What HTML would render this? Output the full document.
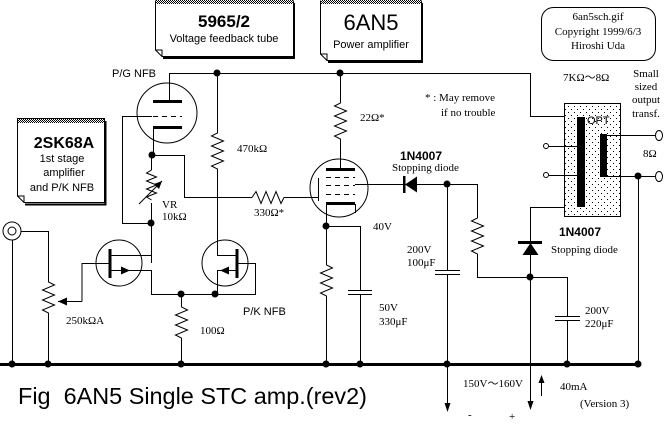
<!DOCTYPE html>
<html><head><style>
html,body{margin:0;padding:0;background:#fff;}
svg{display:block;}
.s{font-family:"Liberation Sans",sans-serif;}
.r{font-family:"Liberation Serif",serif;}
</style></head><body>
<svg width="665" height="424" viewBox="0 0 665 424" xmlns="http://www.w3.org/2000/svg">
<defs>
<pattern id="h" width="2" height="2" patternUnits="userSpaceOnUse"><rect width="1" height="1" fill="#000"/><rect x="1" y="1" width="1" height="1" fill="#000"/></pattern>
<pattern id="d" width="6" height="6" patternUnits="userSpaceOnUse"><rect width="6" height="6" fill="#fff"/><rect x="1" y="1" width="1" height="1" fill="#000"/><rect x="4" y="4" width="1" height="1" fill="#000"/></pattern>
</defs>
<g fill="none" stroke="#000" stroke-width="1">
<path d="M155.5,0.5 V50 L162,56.5 H293.5 V0.5" fill="#fff"/>
<rect x="156" y="0" width="137" height="4" fill="url(#h)" stroke="none"/>
<path d="M294,3 V58 H163" stroke-width="2"/>
<path d="M155.5,50 H162 V56.5"/>
<path d="M320.5,0.5 V54 L327,60.5 H421.5 V0.5" fill="#fff"/>
<rect x="321" y="0" width="100" height="4" fill="url(#h)" stroke="none"/>
<path d="M422,3 V62 H328" stroke-width="2"/>
<path d="M320.5,54 H327 V60.5"/>
<path d="M17.5,118.5 V196 L24,202.5 H104.5 V118.5 Z" fill="#fff"/>
<rect x="18" y="119" width="86" height="4" fill="url(#h)" stroke="none"/>
<path d="M105.5,121 V204.5 H25" stroke-width="2"/>
<path d="M17.5,196 H24 V202.5"/>
<rect x="541.5" y="7.5" width="114" height="53" rx="12"/>
<path d="M169,73.5 H530.5 V116.5 H578"/>
<circle cx="167" cy="113" r="30"/>
<path d="M169.5,73 V101"/>
<path d="M153,101.5 H182" stroke-width="3"/>
<path d="M153,127.5 H182" stroke-width="3"/>
<path d="M153,116.5 H182" stroke-dasharray="5,4"/>
<path d="M152,116.5 H122.5 V223.5 H151.5"/>
<path d="M153.5,128 V155.5 H184.5 V197.5 H252"/>
<path d="M151.5,155 V170 M151.5,203 V263"/>
<path d="M151.5,170 l-5,3 l10,4 l-10,4 l10,4 l-10,4 l10,4 l-10,4 l5,3" />
<path d="M139,204 L162,181"/>
<path d="M217.5,73 V133 l-6,3 l12,5 l-12,5 l12,5 l-12,5 l12,5 l-12,5 l6,3 V255.5 H237"/>
<path d="M252,197.5 l4,-6 l5,12 l5,-12 l5,12 l5,-12 l5,12 l3,-6 H318"/>
<circle cx="119" cy="263" r="23"/>
<path d="M110,249 V278" stroke-width="3"/>
<path d="M82,301.5 V263.5 H110"/>
<path d="M110,255.5 H151"/>
<path d="M110,270.5 H151.5 V294.5 H255.5 V263.5 H237"/>
<circle cx="225" cy="263" r="23"/>
<path d="M237,249 V278" stroke-width="3"/>
<path d="M237,270.5 H217.5 V294"/>
<circle cx="12" cy="231" r="9"/>
<circle cx="12" cy="231" r="4"/>
<path d="M12.5,240 V364 M21,231.5 H48.5 V282 l6,3 l-12,5 l12,5 l-12,5 l12,5 l-12,5 l6,3 V364"/>
<path d="M58,301.5 H82"/>
<path d="M181.5,294 V307 l6,3 l-12,5 l12,5 l-12,5 l12,5 l-12,5 l6,3 V364"/>
<circle cx="339" cy="188" r="29"/>
<path d="M340.5,73 V103 l-6,3 l12,5 l-12,5 l12,5 l-12,5 l12,5 l-12,5 l6,3 V169"/>
<path d="M326,169.5 H355" stroke-width="3"/>
<path d="M326,177.5 H355 M326,185.5 H355 M326,194.5 H355" stroke-dasharray="5,4"/>
<path d="M326,203.5 H355" stroke-width="3"/>
<path d="M355.5,204 V213"/>
<path d="M318.5,178 V201"/>
<path d="M355,184.5 H404"/>
<path d="M326.5,204 V226.5 H360.5 V290 M360.5,294 V364"/>
<path d="M348,290.5 H372 M348,294.5 H372"/>
<path d="M326.5,226 V265 l6,3 l-12,5 l12,5 l-12,5 l12,5 l-12,5 l6,3 V364"/>
<path d="M417,184.5 H477.5 V218 l-6,3 l12,5 l-12,5 l12,5 l-12,5 l12,5 l-12,5 l6,3 V277.5 H567.5 V316 M567.5,320 V364"/>
<path d="M555,316.5 H580 M555,320.5 H580"/>
<path d="M447.5,184 V270 M447.5,274 V408"/>
<path d="M435,270.5 H460 M435,274.5 H460"/>
<path d="M530.5,207.5 H578 M530.5,207 V408"/>
<path d="M518,242.5 H542" stroke-width="3"/>
<rect x="564.5" y="103.5" width="56" height="113" fill="url(#d)"/>
<rect x="577" y="117" width="8" height="90" fill="#000" stroke="none"/>
<rect x="600" y="134" width="7" height="43" fill="#000" stroke="none"/>
<circle cx="546" cy="146" r="2.5"/>
<circle cx="546" cy="175" r="2.5"/>
<path d="M549,146.5 H577 M549,175.5 H577"/>
<path d="M607,135.5 H655 M607,176.5 H655 M638.5,176 V364"/>
<ellipse cx="659" cy="135.5" rx="3.5" ry="5"/>
<ellipse cx="659" cy="176.5" rx="3.5" ry="5"/>
<path d="M0,364.5 H639" stroke-width="3"/>
<path d="M541.5,380 V396"/>
</g>
<g fill="#000">
<circle cx="217" cy="73" r="3.5"/><circle cx="340" cy="73" r="3.5"/>
<circle cx="152" cy="155" r="3.5"/><circle cx="151" cy="223" r="3.5"/>
<circle cx="181" cy="294" r="3.5"/><circle cx="215" cy="294" r="3.5"/>
<circle cx="326" cy="226" r="3.5"/><circle cx="447" cy="184" r="3.5"/>
<circle cx="530" cy="277" r="3.5"/><circle cx="638" cy="176" r="3.5"/>
<circle cx="12" cy="364" r="3.5"/><circle cx="48" cy="364" r="3.5"/>
<circle cx="181" cy="364" r="3.5"/><circle cx="326" cy="364" r="3.5"/>
<circle cx="360" cy="364" r="3.5"/><circle cx="447" cy="364" r="3.5"/>
<circle cx="567" cy="364" r="3.5"/><circle cx="638" cy="364" r="3.5"/>
<path d="M162,181 l-8,3 l5,5 z"/>
<path d="M130,270.5 l-9,-4 v8 z"/>
<path d="M220,270.5 l9,-4 v8 z"/>
<path d="M58,301.5 l9,-4 v8 z"/>
<path d="M405,184.5 l12,-8 v16 z"/><rect x="403" y="176" width="2.5" height="17"/>
<path d="M530.5,243 l-8,12 h16 z"/>
<path d="M447.5,412 l-3,-9 h6 z"/><path d="M530.5,410 l-3,-9 h6 z"/>
<path d="M541.5,375 l-3,8 h6 z"/>
</g>
<g class="s" fill="#000">
<text x="224" y="27" font-size="17" font-weight="bold" text-anchor="middle">5965/2</text>
<text x="224" y="42" font-size="11" text-anchor="middle">Voltage feedback tube</text>
<text x="371" y="30" font-size="22" text-anchor="middle">6AN5</text>
<text x="371" y="48" font-size="11" text-anchor="middle">Power amplifier</text>
<text x="64" y="148" font-size="16" font-weight="bold" text-anchor="middle">2SK68A</text>
<text x="62" y="162" font-size="11" text-anchor="middle">1st stage</text>
<text x="64" y="176" font-size="11" text-anchor="middle">amplifier</text>
<text x="62" y="191" font-size="11" text-anchor="middle">and P/K NFB</text>
<text x="112" y="77" font-size="11">P/G NFB</text>
<text x="243" y="315" font-size="11">P/K NFB</text>
<text x="18" y="404" font-size="23" textLength="349" lengthAdjust="spacingAndGlyphs">Fig&#160;&#160;6AN5 Single STC amp.(rev2)</text>
<text x="421" y="160" font-size="12" font-weight="bold" text-anchor="middle">1N4007</text>
<text x="580" y="236" font-size="12" font-weight="bold" text-anchor="middle">1N4007</text>
<text x="587" y="124" font-size="11">OPT</text>
</g>
<g class="r" fill="#000" font-size="11">
<text x="237" y="152">470kΩ</text>
<text x="162" y="208">VR</text>
<text x="162" y="220">10kΩ</text>
<text x="254" y="216">330Ω*</text>
<text x="66" y="324">250kΩA</text>
<text x="200" y="334">100Ω</text>
<text x="360" y="121">22Ω*</text>
<text x="373" y="230">40V</text>
<text x="379" y="311">50V</text>
<text x="379" y="325">330μF</text>
<text x="407" y="253">200V</text>
<text x="407" y="266">100μF</text>
<text x="585" y="314">200V</text>
<text x="585" y="327">220μF</text>
<text x="392" y="171">Stopping diode</text>
<text x="551" y="253">Stopping diode</text>
<text x="463" y="387">150V〜160V</text>
<text x="560" y="390">40mA</text>
<text x="580" y="407">(Version 3)</text>
<text x="468" y="418">-</text>
<text x="509" y="420">+</text>
<text x="425" y="101">* : May remove</text>
<text x="441" y="116">if no trouble</text>
<text x="563" y="81">7KΩ〜8Ω</text>
<text x="643" y="157">8Ω</text>
<text x="646" y="77" text-anchor="middle">Small</text>
<text x="646" y="90" text-anchor="middle">sized</text>
<text x="646" y="103" text-anchor="middle">output</text>
<text x="646" y="117" text-anchor="middle">transf.</text>
<text x="598" y="20" text-anchor="middle">6an5sch.gif</text>
<text x="598" y="35" text-anchor="middle">Copyright 1999/6/3</text>
<text x="598" y="49" text-anchor="middle">Hiroshi Uda</text>
</g>
</svg>
</body></html>
